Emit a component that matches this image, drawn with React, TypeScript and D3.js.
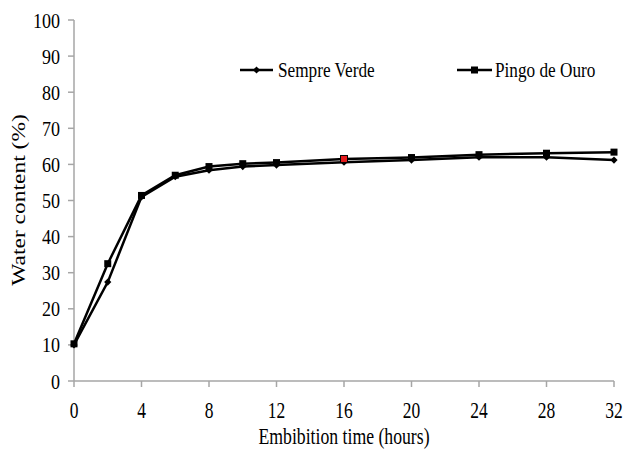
import React from "react";
import * as d3 from "d3";

const hours = [0, 2, 4, 6, 8, 10, 12, 16, 20, 24, 28, 32];
const sempreVerde = [10, 27.4, 51, 56.6, 58.4, 59.4, 59.8, 60.6, 61.2, 62, 62, 61.2];
const pingoDeOuro = [10.3, 32.5, 51.4, 57, 59.4, 60.2, 60.5, 61.5, 61.9, 62.7, 63.1, 63.4];
const xTicks = [0, 4, 8, 12, 16, 20, 24, 28, 32];
const yTicks = [0, 10, 20, 30, 40, 50, 60, 70, 80, 90, 100];
const seriesNames = ["Sempre Verde", "Pingo de Ouro"];
const highlightIndex = 7; // red marker on Pingo de Ouro at 16 h

const W = 624;
const H = 453;
const FONT = "Liberation Serif, Times New Roman, serif";
const st = (size: number): React.CSSProperties => ({ fontFamily: FONT, fontSize: `${size}px` });

export default function App() {
  const x = d3.scaleLinear().domain([0, 32]).range([74, 614]);
  const y = d3.scaleLinear().domain([0, 100]).range([381, 20]);
  const line = d3
    .line<[number, number]>()
    .x((d) => x(d[0]))
    .y((d) => y(d[1]));
  const sv: [number, number][] = hours.map((h, i) => [h, sempreVerde[i]]);
  const po: [number, number][] = hours.map((h, i) => [h, pingoDeOuro[i]]);
  const axisColor = "#a6a6a6";

  const diamond = (cx: number, cy: number, k: string | number, r = 3.6) => (
    <path
      key={k}
      d={`M${cx},${cy - r}L${cx + r},${cy}L${cx},${cy + r}L${cx - r},${cy}Z`}
      fill="#000"
    />
  );
  const square = (cx: number, cy: number, k: string | number, fill = "#000", s = 7) => (
    <rect key={k} x={cx - s / 2} y={cy - s / 2} width={s} height={s} fill={fill} stroke="#000" strokeWidth={fill === "#000" ? 0 : 1} />
  );

  return (
    <svg
      width={W}
      height={H}
      style={{ position: "absolute", left: 0, top: 0, background: "#fff" }}
    >
      <rect width={W} height={H} fill="#fff" />
      {/* axes */}
      <line x1={x(0)} x2={x(0)} y1={y(0)} y2={y(100)} stroke={axisColor} strokeWidth={1.5} />
      <line x1={x(0)} x2={x(32)} y1={y(0)} y2={y(0)} stroke={axisColor} strokeWidth={1.5} />
      {yTicks.map((t) => (
        <g key={"y" + t}>
          <line x1={x(0) - 6} x2={x(0)} y1={y(t)} y2={y(t)} stroke={axisColor} strokeWidth={1.5} />
          <text
            transform={`translate(${x(0) - 14},${y(t) + 7.5}) scale(0.84,1)`}
            textAnchor="end"
            style={st(21.5)}
            fill="#000"
          >
            {t}
          </text>
        </g>
      ))}
      {xTicks.map((t) => (
        <g key={"x" + t}>
          <line x1={x(t)} x2={x(t)} y1={y(0)} y2={y(0) + 6} stroke={axisColor} strokeWidth={1.5} />
          <text
            transform={`translate(${x(t)},${y(0) + 37}) scale(0.76,1)`}
            textAnchor="middle"
            style={st(23)}
            fill="#000"
          >
            {t}
          </text>
        </g>
      ))}
      {/* axis titles */}
      <text
        transform={`translate(${344},${444}) scale(0.77,1)`}
        textAnchor="middle"
        style={st(23)}
        fill="#000"
      >
        Embibition time (hours)
      </text>
      <text
        transform={`translate(${25},${200}) rotate(-90) scale(1,0.8)`}
        textAnchor="middle"
        style={st(23.5)}
        fill="#000"
      >
        Water content (%)
      </text>
      {/* lines */}
      <path d={line(sv) || ""} fill="none" stroke="#000" strokeWidth={2.5} />
      <path d={line(po) || ""} fill="none" stroke="#000" strokeWidth={2.5} />
      {sv.map((d, i) => diamond(x(d[0]), y(d[1]), "d" + i))}
      {po.map((d, i) =>
        square(x(d[0]), y(d[1]), "s" + i, i === highlightIndex ? "#e31a1c" : "#000")
      )}
      {/* legend */}
      <line x1={240} x2={273} y1={70} y2={70} stroke="#000" strokeWidth={2.5} />
      {diamond(256.5, 70, "ld")}
      <text transform={`translate(278,77) scale(0.82,1)`} style={st(21)} fill="#000">
        {seriesNames[0]}
      </text>
      <line x1={457} x2={492} y1={70} y2={70} stroke="#000" strokeWidth={2.5} />
      {square(474.5, 70, "ls")}
      <text transform={`translate(495,77) scale(0.82,1)`} style={st(21)} fill="#000">
        {seriesNames[1]}
      </text>
    </svg>
  );
}
